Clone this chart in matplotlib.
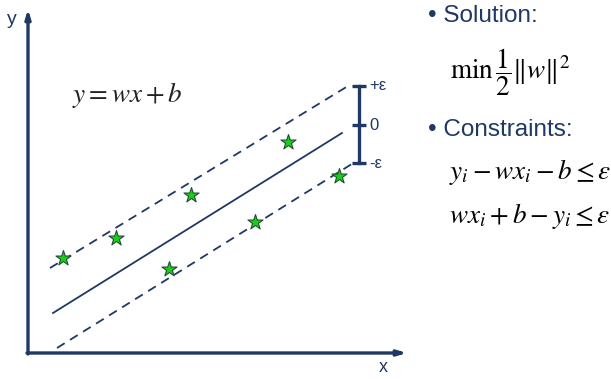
import matplotlib.pyplot as plt

plt.rcParams['mathtext.fontset'] = 'stix'

navy = '#1f3864'
txt_blue = '#1f3864'

# sample points (pixel-like diagram units, y grows downward)
star_x = [63, 116, 191, 169, 288, 255, 339]
star_y = [258, 238, 195, 269, 142, 222, 176]

# regression line and the epsilon tube (end points)
line_x = [53, 342]
line_y = [313, 133]
upper_x = [50, 348]
upper_y = [268, 86]
lower_x = [57, 355]
lower_y = [348, 162]

# epsilon bar
bar_x = 359
bar_levels = [86, 125, 163]
bar_labels = ['+ε', '0', '-ε']

fig = plt.figure(figsize=(6.11, 3.79), dpi=100)
ax = fig.add_axes([0, 0, 1, 1])
ax.set_xlim(0, 611)
ax.set_ylim(379, 0)
ax.axis('off')

# axes of the diagram
arrow = dict(arrowstyle='-|>,head_length=0.5,head_width=0.15',
             color=navy, lw=2.4, shrinkA=0, shrinkB=0)
ax.annotate('', xy=(407, 353), xytext=(27, 353), arrowprops=arrow)
ax.annotate('', xy=(28, 9), xytext=(28, 354), arrowprops=arrow)
ax.text(12, 20, 'y', fontsize=14, color=navy, ha='center', va='center',
        family='Liberation Sans')
ax.text(383, 368, 'x', fontsize=13, color=navy, ha='center', va='center',
        family='Liberation Sans')

ax.plot(line_x, line_y, color=navy, lw=1.3)
ax.plot(upper_x, upper_y, color=navy, lw=1.3, dashes=(5, 3.5))
ax.plot(lower_x, lower_y, color=navy, lw=1.3, dashes=(5, 3.5))

ax.scatter(star_x, star_y, marker='*', s=130, color='#12d312',
           edgecolors='#2a4a3a', linewidths=0.8, zorder=3)

# epsilon bar
ax.plot([bar_x, bar_x], [bar_levels[0], bar_levels[-1]], color=navy, lw=2.4)
for lv, lab in zip(bar_levels, bar_labels):
    ax.plot([bar_x - 7, bar_x + 7], [lv, lv], color=navy, lw=2.4,
            solid_capstyle='butt')
    ax.text(bar_x + 10, lv, lab, fontsize=12, color=navy, ha='left',
            va='center', family='Liberation Sans')

ax.text(127, 95, r'$y = wx + b$', fontsize=19.5, color='#222222',
        ha='center', va='center')

# right-hand text
ax.text(428, 16, '• Solution:', fontsize=17.5, color=txt_blue, ha='left',
        va='center', family='Liberation Sans')
ax.text(450, 72, r'$\mathrm{min}\,\dfrac{1}{2}\Vert w\Vert^2$', fontsize=19.5,
        color='black', ha='left', va='center')
ax.text(428, 130, '• Constraints:', fontsize=17.5, color=txt_blue, ha='left',
        va='center', family='Liberation Sans')
ax.text(449, 172, r'$y_i - wx_i - b \leq \varepsilon$', fontsize=19.5,
        color='black', ha='left', va='center')
ax.text(449, 216, r'$wx_i + b - y_i \leq \varepsilon$', fontsize=19.5,
        color='black', ha='left', va='center')

fig.savefig('out.png', dpi=100)
